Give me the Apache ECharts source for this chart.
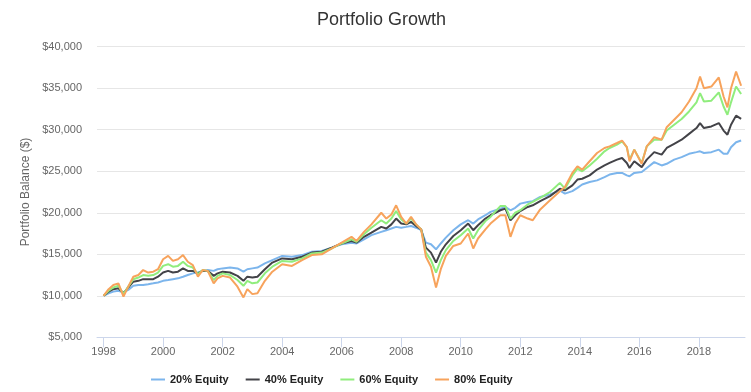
<!DOCTYPE html>
<html><head><meta charset="utf-8">
<script src="https://cdn.jsdelivr.net/npm/echarts@6/dist/echarts.min.js"></script>
<style>html,body{margin:0;padding:0;background:#fff}#c{width:751px;height:392px}</style>
</head><body><div id="c"></div>
<script>
// decimal-year dates of the sampled points
const dates = [
1998.00,1998.17,1998.33,1998.50,1998.67,1998.83,
1999.00,1999.17,1999.33,1999.50,1999.67,1999.83,
2000.00,2000.17,2000.33,2000.50,2000.67,2000.83,
2001.00,2001.17,2001.33,2001.50,2001.70,2001.83,
2002.00,2002.25,2002.50,2002.70,2002.83,
2003.00,2003.17,2003.42,2003.67,
2004.00,2004.33,2004.67,
2005.00,2005.33,2005.67,
2006.00,2006.33,2006.50,2006.75,
2007.00,2007.33,2007.50,2007.67,2007.83,
2008.00,2008.17,2008.33,2008.50,2008.67,2008.83,
2009.00,2009.17,2009.33,2009.50,2009.75,
2010.00,2010.25,2010.42,2010.58,2010.83,
2011.00,2011.33,2011.50,2011.67,2011.83,
2012.00,2012.25,2012.42,2012.67,
2013.00,2013.33,2013.50,2013.75,2013.92,
2014.08,2014.33,2014.58,2014.83,
2015.00,2015.25,2015.42,2015.58,2015.67,2015.83,
2016.08,2016.25,2016.50,2016.75,2016.92,
2017.17,2017.42,2017.67,2017.92,
2018.04,2018.17,2018.42,2018.67,2018.83,2018.96,
2019.08,2019.25,2019.42];

const seriesNames = ['20% Equity','40% Equity','60% Equity','80% Equity'];

const equity20 = [
10000,10300,10500,10600,10400,10700,
11200,11300,11300,11400,11500,11600,
11800,11900,12000,12100,12300,12500,
12700,12800,13000,13100,13000,13200,
13300,13400,13300,12900,13200,
13300,13400,13900,14300,
14800,14700,14900,
15300,15400,15800,
16200,16400,16300,16800,
17300,17700,17900,18100,18300,
18200,18300,18400,18200,17900,16400,
16200,15600,16300,17000,17900,
18600,19100,18700,19200,19700,
20100,20500,20700,20300,20600,
21100,21300,21400,21900,
22200,22700,22300,22600,23000,
23400,23700,23900,24300,
24600,24800,24800,24500,24400,24800,
24900,25400,26100,25700,25900,
26400,26700,27100,27300,
27400,27200,27300,27600,27100,27100,
27900,28500,28700];

const equity40 = [
10000,10500,10800,10900,10300,11000,
11700,11800,12000,12000,12000,12300,
12800,13000,12800,12900,13300,13000,
13000,12700,13000,13000,12400,12700,
12900,12800,12400,11800,12300,
12200,12300,13200,14000,
14500,14400,14700,
15200,15300,15800,
16300,16600,16400,17100,
17600,18300,18100,18600,19300,
18700,18600,18900,18400,18000,15800,
15200,14000,15300,16200,17200,
17900,18700,17900,18500,19300,
19700,20300,20500,19100,19700,
20200,20700,20900,21400,
22000,22900,22700,23300,24000,
24100,24500,25200,25700,
26000,26400,26600,26000,25400,26200,
25500,26400,27300,27000,27800,
28300,28800,29500,30200,
30800,30200,30400,30800,29900,29400,
30600,31700,31300];

const equity60 = [
10000,10600,11000,11200,10200,11100,
12000,12200,12500,12400,12500,12800,
13600,13800,13500,13600,14100,13600,
13400,12600,13100,13000,11900,12400,
12700,12500,11900,11200,11800,
11500,11600,12700,13500,
14200,14100,14500,
15100,15200,15700,
16300,16800,16500,17400,
18200,19100,18700,19300,20200,
19200,18700,19300,18600,18000,15200,
14300,12800,14300,15500,16600,
17300,18100,16900,17900,19000,
19500,20800,20800,19300,20000,
20300,21000,21300,21800,
22500,23600,22900,24500,25300,
25000,25700,26500,27400,
27800,28200,28600,27900,26400,27600,
26000,28000,28800,28800,29900,
30600,31300,32200,33300,
34400,33400,33500,34500,32800,31800,
33300,35200,34300];

const equity80 = [
10000,10800,11300,11500,9900,11100,
12300,12500,13100,12800,12900,13200,
14400,14800,14200,14400,14900,14100,
13700,12300,13100,13000,11500,12100,
12400,12200,11100,9800,10800,
10200,10300,11800,12900,
13800,13600,14300,
14900,15000,15700,
16400,17100,16600,17700,
18600,20000,19300,19800,20900,
19500,18700,19500,18600,18000,14700,
13500,11000,13200,14800,16000,
16300,17500,15700,16900,18000,
18700,19700,19700,17100,18700,
19700,19300,19100,20400,
21500,22600,23100,24800,25600,
25200,26200,27200,27800,
28000,28400,28700,27900,26200,27600,
25900,28000,29100,28800,30300,
31200,32100,33400,35000,
36400,35000,35200,36300,34000,32700,
35000,37000,35300];

const yearTicks = [1998,2000,2002,2004,2006,2008,2010,2012,2014,2016,2018];
const colors = ['#7cb5ec','#434348','#90ed7d','#f7a35c'];

const valueSets = [equity20, equity40, equity60, equity80];
const fmtMoney = v => '$' + String(v).replace(/\B(?=(\d{3})+(?!\d))/g, ',');

const chart = echarts.init(document.getElementById('c'), null, {renderer: 'canvas'});
chart.setOption({
  animation: false,
  color: colors,
  textStyle: {fontFamily: 'Liberation Sans'},
  title: {
    text: 'Portfolio Growth',
    left: 312, top: 6,
    textStyle: {color: '#333333', fontSize: 18, fontWeight: 'normal', fontFamily: 'Liberation Sans'}
  },
  legend: {
    data: seriesNames,
    left: 151, top: 374, padding: 0,
    icon: 'rect', itemWidth: 14, itemHeight: 2, itemGap: 17,
    textStyle: {color: '#222222', fontSize: 11, fontWeight: 'bold', fontFamily: 'Liberation Sans'}
  },
  grid: {left: 97, right: 6, top: 46.7, bottom: 54.7, containLabel: false, outerBoundsMode: 'none'},
  xAxis: {
    type: 'value', min: 1997.78, max: 2019.55,
    axisLine: {show: true, lineStyle: {color: '#ccd6eb', width: 1}},
    axisTick: {show: true, length: 10, customValues: yearTicks, lineStyle: {color: '#ccd6eb'}},
    axisLabel: {customValues: yearTicks, color: '#666666', fontSize: 11, margin: 9,
      formatter: v => String(Math.round(v))},
    splitLine: {show: false}
  },
  yAxis: {
    type: 'value', min: 5000, max: 40000, interval: 5000,
    name: 'Portfolio Balance ($)', nameLocation: 'middle', nameGap: 65,
    nameTextStyle: {color: '#666666', fontSize: 12},
    axisLine: {show: false}, axisTick: {show: false},
    axisLabel: {color: '#666666', fontSize: 11, margin: 15, formatter: fmtMoney},
    splitLine: {lineStyle: {color: '#e6e6e6', width: 1}}
  },
  series: seriesNames.map((name, k) => ({
    name, type: 'line', showSymbol: false, symbol: 'none',
    lineStyle: {width: 2, color: colors[k]},
    data: dates.map((d, i) => [d, valueSets[k][i]])
  }))
});
</script></body></html>
